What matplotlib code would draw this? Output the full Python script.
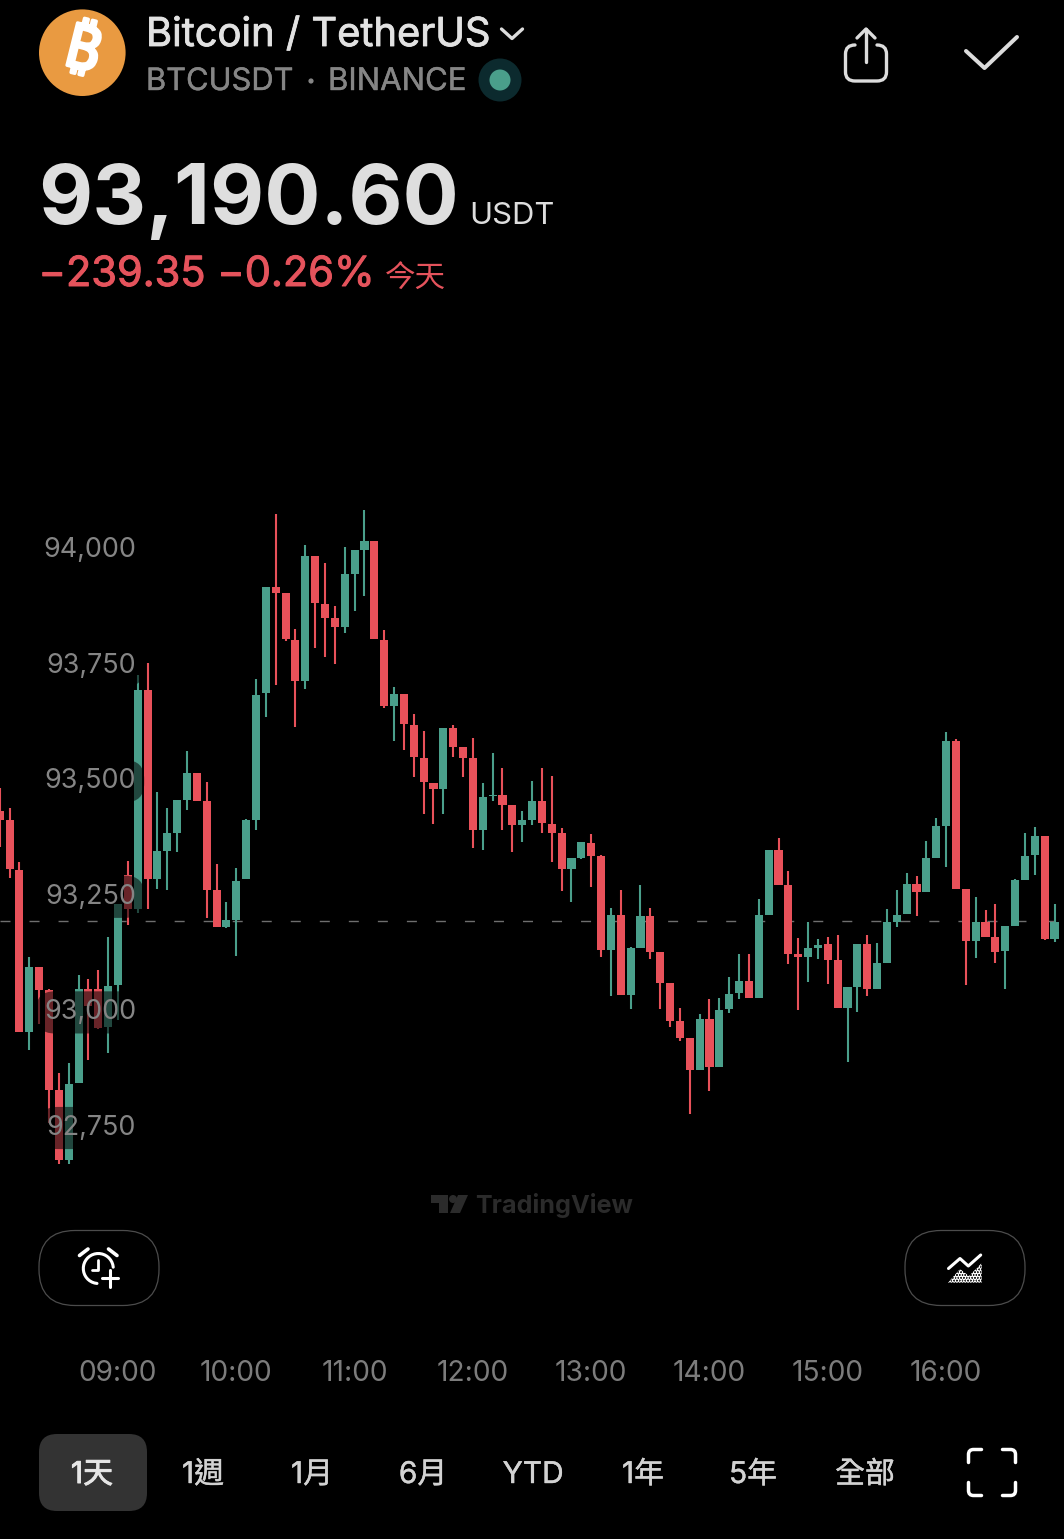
import numpy as np
import matplotlib
matplotlib.use('Agg')
import matplotlib.pyplot as plt
import matplotlib.patheffects as pe
from matplotlib.patches import Circle, FancyBboxPatch, Polygon, PathPatch
from matplotlib.path import Path

plt.rcParams['font.family'] = ['Inter', 'Noto Sans CJK TC', 'DejaVu Sans']
plt.rcParams['hatch.linewidth'] = 2.0

# 5 minute candles, first one is 08:00
opens = [93428, 93410, 93302, 92952, 93091, 93043, 92825, 92674, 92840, 93044, 93044, 92961,
         93052, 93291, 93217, 93690, 93282, 93343, 93382, 93452, 93511, 93450, 93258, 93178,
         93194, 93282, 93410, 93684, 93913, 93900, 93799, 93710, 93981, 93877, 93846, 93827,
         93942, 93993, 94012, 93799, 93656, 93682, 93616, 93544, 93490, 93477, 93608, 93567,
         93543, 93389, 93461, 93464, 93441, 93399, 93410, 93451, 93402, 93381, 93304, 93328,
         93360, 93331, 93129, 93204, 93031, 93132, 93202, 93124, 93057, 92975, 92938, 92869,
         92979, 92876, 93000, 93035, 93062, 93024, 93205, 93344, 93268, 93120, 93114, 93133,
         93141, 93106, 93003, 93049, 93141, 93045, 93101, 93190, 93206, 93271, 93253, 93328,
         93397, 93580, 93261, 93148, 93190, 93156, 93126, 93181, 93279, 93333, 93376, 93153]
highs = [93478, 93435, 93319, 93114, 93092, 93045, 92862, 92884, 93075, 93066, 93086, 93157,
         93228, 93321, 93724, 93750, 93470, 93435, 93452, 93558, 93511, 93492, 93314, 93232,
         93306, 93412, 93714, 93913, 94071, 93900, 93822, 94004, 93981, 93965, 93872, 94000,
         93993, 94080, 94012, 93820, 93697, 93682, 93639, 93601, 93490, 93608, 93614, 93567,
         93588, 93490, 93554, 93523, 93441, 93428, 93493, 93522, 93505, 93393, 93328, 93361,
         93380, 93334, 93219, 93258, 93134, 93268, 93219, 93124, 93057, 93003, 92938, 92990,
         93022, 93024, 93069, 93119, 93119, 93238, 93344, 93371, 93300, 93154, 93188, 93152,
         93156, 93160, 93048, 93141, 93160, 93143, 93217, 93259, 93295, 93289, 93364, 93413,
         93599, 93584, 93261, 93242, 93214, 93227, 93181, 93282, 93381, 93394, 93376, 93228]
lows = [93352, 93285, 92952, 92912, 92969, 92754, 92666, 92666, 92840, 92890, 92957, 92905,
        92978, 93183, 93209, 93218, 93260, 93258, 93340, 93431, 93450, 93198, 93178, 93175,
        93115, 93282, 93387, 93633, 93702, 93797, 93611, 93692, 93781, 93763, 93748, 93815,
        93861, 93894, 93800, 93652, 93580, 93560, 93503, 93423, 93402, 93423, 93545, 93502,
        93348, 93345, 93451, 93389, 93341, 93363, 93399, 93382, 93318, 93255, 93232, 93325,
        93265, 93114, 93028, 93031, 93000, 93132, 93109, 93001, 92961, 92932, 92774, 92869,
        92824, 92876, 92992, 93023, 93024, 93024, 93205, 93268, 93099, 92999, 93060, 93108,
        93055, 93003, 92887, 92995, 93029, 93045, 93101, 93178, 93206, 93202, 93253, 93328,
        93308, 93261, 93052, 93111, 93156, 93101, 93044, 93181, 93279, 93291, 93150, 93145]
closes = [93410, 93304, 92952, 93091, 93043, 92825, 92674, 92838, 93044, 93008, 92959, 93051,
          93228, 93217, 93690, 93282, 93343, 93381, 93452, 93511, 93450, 93259, 93178, 93193,
          93278, 93410, 93681, 93913, 93900, 93800, 93710, 93981, 93878, 93847, 93827, 93942,
          93993, 94012, 93800, 93656, 93682, 93617, 93545, 93492, 93477, 93608, 93567, 93544,
          93389, 93459, 93464, 93441, 93399, 93409, 93451, 93403, 93381, 93304, 93328, 93361,
          93331, 93129, 93204, 93031, 93132, 93202, 93124, 93057, 92975, 92939, 92869, 92979,
          92876, 92999, 93034, 93062, 93024, 93205, 93344, 93268, 93120, 93113, 93132, 93139,
          93107, 93003, 93048, 93141, 93045, 93101, 93189, 93204, 93271, 93253, 93328, 93397,
          93580, 93261, 93148, 93189, 93156, 93125, 93181, 93279, 93332, 93376, 93153, 93190]
last_price = 93190.60

price_ticks = [92750, 93000, 93250, 93500, 93750, 94000]
price_labels = ['92,750', '93,000', '93,250', '93,500', '93,750', '94,000']
hour_ticks = [12, 24, 36, 48, 60, 72, 84, 96]
hour_labels = ['09:00', '10:00', '11:00', '12:00', '13:00', '14:00', '15:00', '16:00']
tabs = ['1天', '1週', '1月', '6月', 'YTD', '1年', '5年', '全部']
tab_x = [92, 203, 312, 423, 533, 643, 753, 865]

GREEN = '#4A9F8B'
RED = '#E8515A'
W, H = 1064, 1539

fig = plt.figure(figsize=(W / 100, H / 100), dpi=100, facecolor='black')

# chart, bottom of the axes sits just over the time labels
top_px, bottom_px = 490, 1350
ax = fig.add_axes([0, (H - bottom_px) / H, 1, (bottom_px - top_px) / H], facecolor='black')
per_px = 250 / 115.6
ax.set_ylim(94000 - (bottom_px - 547) * per_px, 94000 + (547 - top_px) * per_px)
ax.set_xlim(0.03, 107.96)

x = np.arange(len(opens))
o = np.array(opens)
c = np.array(closes)
colors = [GREEN if b >= a else RED for a, b in zip(opens, closes)]

ax.axhline(last_price, color='#6E6E6E', lw=1, dashes=(7.2, 13.7), zorder=0.5)
ax.vlines(x, lows, highs, colors=colors, lw=1.5, zorder=1)
ax.bar(x, np.abs(c - o), bottom=np.minimum(o, c), width=0.82, color=colors, zorder=1.2)

for s in ax.spines.values():
    s.set_visible(False)
ax.set_axisbelow(False)
ax.set_yticks(price_ticks, price_labels)
ax.set_xticks(hour_ticks, hour_labels)
ax.tick_params(axis='y', length=0, pad=-98, labelsize=19.4, labelcolor='#858585')
ax.tick_params(axis='x', length=0, pad=7.2, labelsize=20.2, labelcolor='#7C7C7C')
for lab in ax.get_yticklabels():
    lab.set_bbox(dict(boxstyle='round,pad=0.3,rounding_size=0.7', fc=(0, 0, 0, 0.55), ec='none'))

# everything around the chart, in pixels
ui = fig.add_axes([0, 0, 1, 1], facecolor='none')
ui.set_xlim(0, W)
ui.set_ylim(H, 0)
ui.axis('off')


def stroke(pts, color='#DCDCDC', lw=2.4):
    xs, ys = zip(*pts)
    ui.plot(xs, ys, color=color, lw=lw, solid_capstyle='round', solid_joinstyle='round')


def thick(color, width):
    # the installed fonts have no medium cut, so fatten the regular a bit
    return [pe.withStroke(linewidth=width, foreground=color)]


# header
ui.add_patch(Circle((82.3, 52.7), 43.3, color='#E99A41', lw=0))
ui.text(82, 53, '₿', family=['Noto Sans', 'Roboto', 'Open Sans', 'Lato', 'Liberation Sans', 'DejaVu Sans'],
        weight='bold', fontsize=44, color='white', rotation=-14, ha='center', va='center',
        path_effects=thick('white', 2.4))
ui.text(146, 46, 'Bitcoin / TetherUS', fontsize=28.7, color='#E2E2E2', va='baseline',
        path_effects=thick('#E2E2E2', 0.6))
stroke([(501.5, 29), (512, 38.5), (522.5, 29)])
ui.text(146, 90, 'BTCUSDT', fontsize=22.2, color='#858585', va='baseline',
        path_effects=thick('#858585', 0.3))
ui.add_patch(Circle((311, 81), 2.6, color='#858585', lw=0))
ui.text(328, 90, 'BINANCE', fontsize=22.4, color='#858585', va='baseline',
        path_effects=thick('#858585', 0.3))
ui.add_patch(Circle((500, 80), 21.5, color='#0C2A2E', lw=0))
ui.add_patch(Circle((500, 80), 10.5, color=GREEN, lw=0))

# share and check
ui.add_patch(PathPatch(Path(
    [(855, 45), (845.5, 45), (845.5, 54), (845.5, 72), (845.5, 81), (855, 81), (877, 81),
     (886.5, 81), (886.5, 72), (886.5, 54), (886.5, 45), (877, 45)],
    [Path.MOVETO, Path.CURVE3, Path.CURVE3, Path.LINETO, Path.CURVE3, Path.CURVE3, Path.LINETO,
     Path.CURVE3, Path.CURVE3, Path.LINETO, Path.CURVE3, Path.CURVE3]),
    fill=False, ec='#DCDCDC', lw=2.4, capstyle='round'))
stroke([(866, 62), (866, 29)])
stroke([(857, 38), (866, 29), (875, 38)])
stroke([(966, 51), (984.5, 68), (1017, 37)], lw=2.9)

# price block
ui.text(38.5, 224, '93,190.60', fontsize=60, color='#DEDEDE', weight='bold', va='baseline')
ui.text(469, 224, 'USDT', fontsize=22.3, color='#DEDEDE', va='baseline')
ui.text(38.5, 286, '−239.35 −0.26%', fontsize=29.9, color='#E5535C', va='baseline',
        path_effects=thick('#E5535C', 0.7))
ui.text(415.5, 280, '今天', fontsize=22, color='#E5535C', ha='center', va='center')

# watermark
wm = '#2B2B2B'
ui.add_patch(Polygon([(431, 1195), (448, 1195), (448, 1213), (439, 1213), (439, 1203), (431, 1203)], color=wm, lw=0))
ui.add_patch(Circle((453, 1199), 4, color=wm, lw=0))
ui.add_patch(Polygon([(468, 1195), (460, 1213), (450, 1213), (458, 1195)], color=wm, lw=0))
ui.text(475, 1213, 'TradingView', fontsize=18.1, color=wm, weight='bold', va='baseline')

# pill buttons
for left in (39, 905):
    ui.add_patch(FancyBboxPatch((left + 36, 1230.5 + 36), 120 - 72, 75 - 72,
                                boxstyle='round,pad=36,rounding_size=36',
                                fc='none', ec='#4C4C4C', lw=0.9))

# alarm icon, arc is open at the lower right where the plus goes
t = np.radians(np.arange(95, 365, 10))
stroke(list(zip(98.3 + 15 * np.cos(t), 1268.5 + 15 * np.sin(t))), color='white', lw=2.2)
stroke([(79.5, 1255.5), (88, 1249)], color='white', lw=2.6)
stroke([(108.5, 1249), (117, 1255.5)], color='white', lw=2.6)
stroke([(98.3, 1259.5), (98.3, 1270), (92, 1270)], color='white', lw=2)
stroke([(110, 1270), (110, 1286.5)], color='white', lw=2.2)
stroke([(101.7, 1278.3), (118.3, 1278.3)], color='white', lw=2.2)

# chart type icon
stroke([(948.5, 1268.5), (960, 1258.5), (968.3, 1266), (980.7, 1255)], color='white', lw=2.2)
ui.add_patch(Polygon([(948, 1282.7), (960, 1269), (969, 1276), (981.7, 1263), (981.7, 1282.7)],
                     fc='none', ec='white', hatch='......', lw=0))

# range tabs
ui.add_patch(FancyBboxPatch((39 + 18, 1434 + 18), 108 - 36, 77 - 36,
                            boxstyle='round,pad=18,rounding_size=18', fc='#333333', ec='none'))
for i, (name, px) in enumerate(zip(tabs, tab_x)):
    col = '#E6E6E6' if i == 0 else '#D2D2D2'
    ui.text(px, 1475, name, fontsize=21.5, color=col, ha='center', va='center',
            path_effects=thick(col, 0.7 if i == 0 else 0.3))

# fullscreen corners
for cx, sx in ((968.5, 1), (1015.5, -1)):
    for cy, sy in ((1449.5, 1), (1495.5, -1)):
        ui.add_patch(PathPatch(Path(
            [(cx, cy + sy * 13), (cx, cy + sy * 5), (cx, cy), (cx + sx * 5, cy), (cx + sx * 13, cy)],
            [Path.MOVETO, Path.LINETO, Path.CURVE3, Path.CURVE3, Path.LINETO]),
            fill=False, ec='white', lw=2.5, capstyle='round'))

fig.savefig('out.png', dpi=100, facecolor='black')
